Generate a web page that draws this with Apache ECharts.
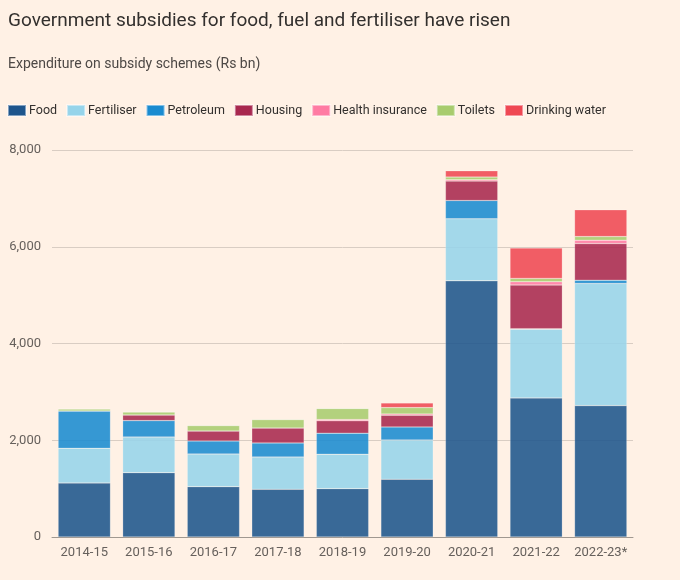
<!DOCTYPE html>
<html><head><meta charset="utf-8">
<script src="https://cdn.jsdelivr.net/npm/echarts@6/dist/echarts.min.js"></script>
<style>html,body{margin:0;padding:0;background:#fff1e5;}#c{width:680px;height:580px;}</style>
</head><body><div id="c"></div>
<script>
const categories = ['2014-15','2015-16','2016-17','2017-18','2018-19','2019-20','2020-21','2021-22','2022-23*'];
const food        = [1117,1330,1041, 986,1000,1193,5295,2875,2716];
const fertiliser  = [ 717, 738, 676, 669, 712, 813,1282,1421,2524];
const petroleum   = [ 772, 338, 269, 289, 435, 269, 379,  10,  69];
const housing     = [   0, 117, 206, 310, 255, 242, 401, 902, 757];
const health      = [   0,   0,   0,   0,  26,  27,  27,  69,  70];
const toilets     = [  40,  62, 111, 173, 228, 131,  56,  69,  75];
const water       = [   0,   0,   0,   0,   0,  96, 130, 627, 552];
const yTicks = [0,2000,4000,6000,8000];

const seriesDefs = [
  ['Food', food, '#1e558c'],
  ['Fertiliser', fertiliser, '#96d4ea'],
  ['Petroleum', petroleum, '#1a8bd0'],
  ['Housing', housing, '#a8284f'],
  ['Health insurance', health, '#ff7ba3'],
  ['Toilets', toilets, '#a8cc6e'],
  ['Drinking water', water, '#ef4853']
];
const FONT = 'Roboto';
const chart = echarts.init(document.getElementById('c'), null, {renderer:'canvas'});
chart.setOption({
  backgroundColor:'#fff1e5',
  animation:false,
  title:[
    {text:'Government subsidies for food, fuel and fertiliser have risen', left:8, top:12, padding:0,
     textStyle:{fontFamily:FONT, fontSize:19, fontWeight:'normal', color:'#33302e'}},
    {text:'Expenditure on subsidy schemes (Rs bn)', left:8, top:57, padding:0,
     textStyle:{fontFamily:FONT, fontSize:14, fontWeight:'normal', color:'#4d4845'}}
  ],
  legend:{
    left:7, top:104, padding:0, itemWidth:18, itemHeight:11, itemGap:9,
    icon:'rect',
    textStyle:{fontFamily:FONT, fontSize:12.5, color:'#33302e', padding:[0,0,0,-2]},
    itemStyle:{opacity:1},
    data: seriesDefs.map(d=>({name:d[0], itemStyle:{color:d[2], opacity:1}}))
  },
  grid:{left:52, right:47, top:150, bottom:43, containLabel:false},
  xAxis:{
    type:'category', data:categories,
    axisLine:{lineStyle:{color:'#a09890', width:1}},
    axisTick:{alignWithLabel:true, length:6, lineStyle:{color:'#a09890'}},
    axisLabel:{interval:0, fontFamily:FONT, fontSize:13, color:'#66605c', margin:9}
  },
  yAxis:{
    type:'value', min:yTicks[0], max:yTicks[yTicks.length-1], interval:2000,
    axisLine:{show:false}, axisTick:{show:false},
    splitLine:{lineStyle:{color:'#d9cdc3', width:1}},
    axisLabel:{fontFamily:FONT, fontSize:13, color:'#66605c', margin:11,
      formatter:v=>v.toLocaleString('en-US')}
  },
  series: seriesDefs.map(d=>({
    name:d[0], type:'bar', stack:'total', data:d[1],
    barCategoryGap:'19%',
    itemStyle:{color:d[2], opacity:0.88, borderColor:'rgba(255,255,255,0.45)', borderWidth:0.5},
    emphasis:{disabled:true}
  }))
});
</script></body></html>
